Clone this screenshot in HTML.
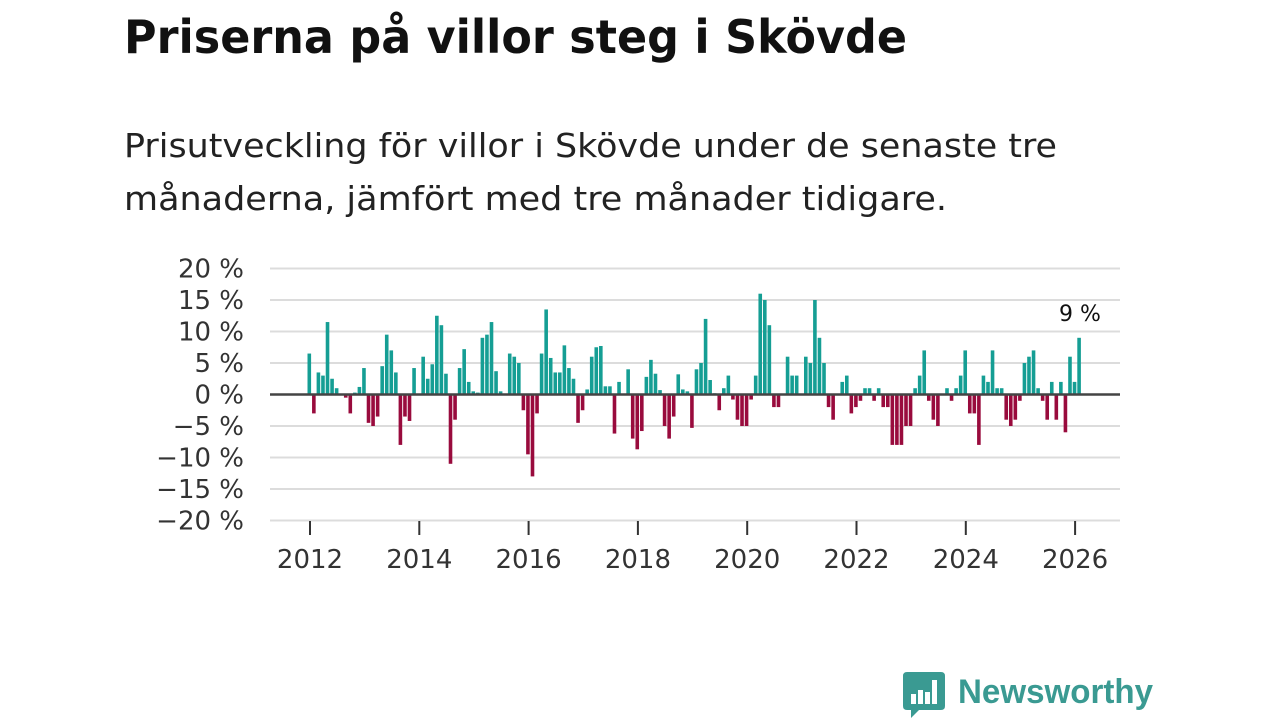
<!DOCTYPE html>
<html><head><meta charset="utf-8"><style>
html,body{margin:0;padding:0;background:#fff;width:1280px;height:720px;overflow:hidden}
text{font-family:"DejaVu Sans","Liberation Sans",sans-serif}
</style></head><body>
<svg id="s" width="1280" height="720" xmlns="http://www.w3.org/2000/svg">
<text x="124" y="53" font-size="46" font-weight="bold" fill="#111" textLength="783" lengthAdjust="spacingAndGlyphs">Priserna på villor steg i Skövde</text>
<text x="124" y="157" font-size="33" fill="#222" textLength="933" lengthAdjust="spacingAndGlyphs">Prisutveckling för villor i Skövde under de senaste tre</text>
<text x="124" y="210" font-size="33" fill="#222" textLength="823" lengthAdjust="spacingAndGlyphs">månaderna, jämfört med tre månader tidigare.</text>
<g id="grid"></g>
<g id="bars"></g>
<text x="1080" y="321" font-size="22" fill="#111" text-anchor="middle">9 %</text>
<g transform="translate(903,672)">
<path d="M0 4 Q0 0 4 0 H38 Q42 0 42 4 V34 Q42 38 38 38 H16 L8 46 L8 38 H4 Q0 38 0 34 Z" fill="#3a9a92"/>
<rect x="8" y="22" width="5" height="10" fill="#fff"/><rect x="15" y="18" width="5" height="14" fill="#fff"/><rect x="22" y="20" width="5" height="12" fill="#fff"/><rect x="29" y="8" width="5" height="24" fill="#fff"/>
</g>
<text x="958" y="703" font-size="34" font-weight="bold" fill="#3a9a92" textLength="195" lengthAdjust="spacingAndGlyphs" style="font-family:'Liberation Sans',sans-serif">Newsworthy</text>
</svg>
<script>
var ns="http://www.w3.org/2000/svg";
function el(p,t,a,txt){var e=document.createElementNS(ns,t);for(var k in a)e.setAttribute(k,a[k]);if(txt)e.textContent=txt;p.appendChild(e);return e;}
var g=document.getElementById('grid'),b=document.getElementById('bars');
var y0=394.5,k=6.3;
for(var v=20;v>=-20;v-=5){var y=y0-v*k;
 if(v!==0)el(g,'line',{x1:270,x2:1120,y1:y,y2:y,stroke:'#dcdcdc','stroke-width':2});
 el(g,'text',{x:244,y:y+9,'font-size':26,fill:'#333','text-anchor':'end'},(v<0?'\u2212'+(-v):v)+' %');}
for(var i=0;i<8;i++){var x=310+i*109.3;el(g,'line',{x1:x,x2:x,y1:521,y2:535,stroke:'#333','stroke-width':2});
 el(g,'text',{x:x,y:568,'font-size':26,fill:'#333','text-anchor':'middle'},String(2012+i*2));}
var d={0:6.5,1:-3,2:3.5,3:3,4:11.5,5:2.5,6:1,8:-0.5,9:-3,10:0.3,11:1.2,12:4.2,13:-4.5,14:-5,15:-3.5,16:4.5,17:9.5,18:7,19:3.5,20:-8,21:-3.5,22:-4.2,23:4.2,25:6,26:2.5,27:4.8,28:12.5,29:11,30:3.3,31:-11,32:-4,33:4.2,34:7.2,35:2,36:0.5,37:0.3,38:9,39:9.5,40:11.5,41:3.7,42:0.5,44:6.5,45:6,46:5,47:-2.5,48:-9.5,49:-13,50:-3,51:6.5,52:13.5,53:5.8,54:3.5,55:3.5,56:7.8,57:4.2,58:2.5,59:-4.5,60:-2.5,61:0.8,62:6,63:7.5,64:7.7,65:1.3,66:1.3,67:-6.2,68:2,70:4,71:-7,72:-8.7,73:-5.8,74:2.8,75:5.5,76:3.3,77:0.7,78:-5,79:-7,80:-3.5,81:3.2,82:0.8,83:0.5,84:-5.3,85:4,86:5,87:12,88:2.3,89:0.2,90:-2.5,91:1,92:3,93:-0.8,94:-4,95:-5,96:-5,97:-0.8,98:3,99:16,100:15,101:11,102:-2,103:-2,105:6,106:3,107:3,109:6,110:5,111:15,112:9,113:5,114:-2,115:-4,117:2,118:3,119:-3,120:-2,121:-1,122:1,123:1,124:-1,125:1,126:-2,127:-2,128:-8,129:-8,130:-8,131:-5,132:-5,133:1,134:3,135:7,136:-1,137:-4,138:-5,140:1,141:-1,142:1,143:3,144:7,145:-3,146:-3,147:-8,148:3,149:2,150:7,151:1,152:1,153:-4,154:-5,155:-4,156:-1,157:5,158:6,159:7,160:1,161:-1,162:-4,163:2,164:-4,165:2,166:-6,167:6,168:2,169:9};
for(var i in d){var v=d[i],x=309.3+i*4.555-1.8;
 if(v>=0)el(b,'rect',{x:x,y:y0-v*k,width:3.6,height:v*k,fill:'#159e94'});
 else el(b,'rect',{x:x,y:y0,width:3.6,height:-v*k,fill:'#990b3d'});}
el(b,'line',{x1:270,x2:1120,y1:y0,y2:y0,stroke:'#444','stroke-width':2.5});
</script>
</body></html>
